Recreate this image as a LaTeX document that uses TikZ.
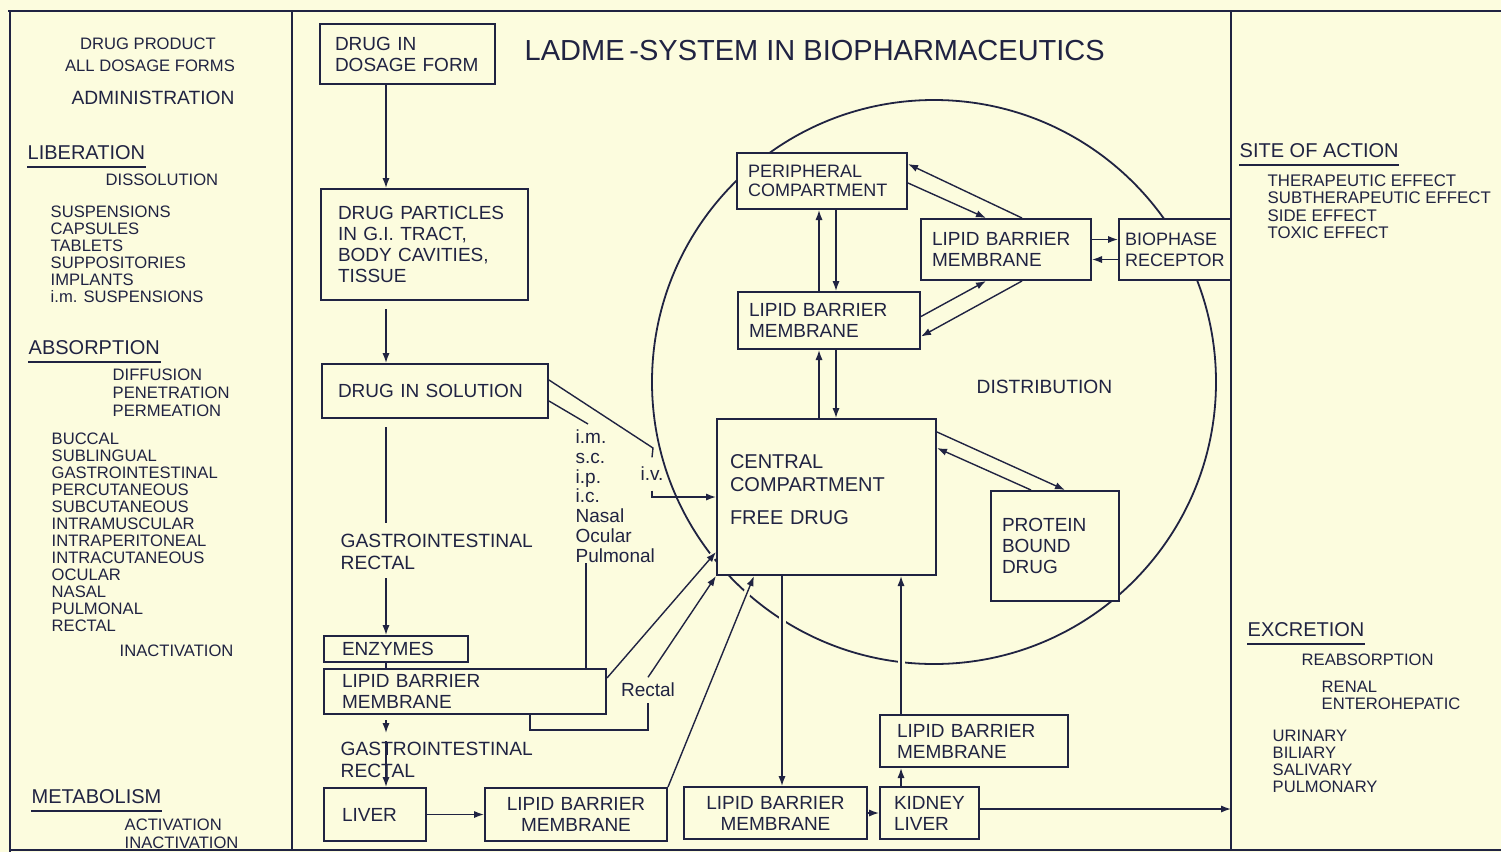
\documentclass[tikz,border=0pt]{standalone}
\usepackage{fontspec}
\setmainfont{Liberation Sans}
\usetikzlibrary{arrows.meta}
\definecolor{paper}{RGB}{252,252,222}
\definecolor{ink}{RGB}{32,35,66}
\newcommand{\bxfont}{\fontsize{9.5}{10.5}\selectfont}
\newcommand{\lsfont}{\fontsize{8.3}{8.5}\selectfont}
\newcommand{\hdfont}{\fontsize{10}{12}\selectfont}
\newcommand{\ttlfont}{\fontsize{14.5}{16}\selectfont}
\newcommand{\lbfont}{\fontsize{9.6}{11}\selectfont}

\begin{document}
\begin{tikzpicture}[
      x = .5pt, y = -.5pt,
      every node/.style = {inner sep = 0pt, text = ink},
      every path/.style = {ink, line width = .7pt},
      box/.style = {draw, line width = 1pt, fill = paper, anchor = north west,
        align = left, font = \bxfont, inner ysep = 0pt},
      lst/.style = {anchor = north west, align = left, font = \lsfont},
      head/.style = {anchor = west, font = \hdfont},
      uline/.style = {line width = 1.2pt},
      arr/.style = {-{Latex[length = 5pt, width = 3.6pt]}},
      gap/.style = {preaction = {draw = paper, line width = 3.5pt, -,
          shorten <=2pt, shorten >=2pt}}
      ]
    \useasboundingbox (0,0) rectangle (1501,852);
    \fill[paper] (0,0) rectangle (1501,852);
    % frame
    \draw[line width = 1pt] (8,11) -- (1501,11);
    \draw[line width = 1pt] (10,11) -- (10,852);
    \draw (10,850) -- (1501,850);
    \draw (292,11) -- (292,850);
    \draw (1231,11) -- (1231,850);
    % distribution circle
    \draw[line width = .9pt] (934,382) circle [radius = 282];

    % left column
    \node[font = \lsfont] (product) at (148,44) {DRUG PRODUCT};
    \node[font = \lsfont] (forms) at (150,66) {ALL DOSAGE FORMS};
    \node[font = \lbfont] (admin) at (153,98) {ADMINISTRATION};
    \node[head] (liberation) at (27,153) {LIBERATION};
    \node[lst, anchor = west] (dissolution) at (105,180) {DISSOLUTION};
    \node[lst] (dosageforms) at (50,205) {SUSPENSIONS\\CAPSULES\\TABLETS\\SUPPOSITORIES\\IMPLANTS\\i.m. SUSPENSIONS};
    \node[head] (absorption) at (28,348) {ABSORPTION};
    \node[lst, font = \fontsize{8.3}{9}\selectfont] (transport) at (112,368) {DIFFUSION\\PENETRATION\\PERMEATION};
    \node[lst] (routes) at (51,432) {BUCCAL\\SUBLINGUAL\\GASTROINTESTINAL\\PERCUTANEOUS\\SUBCUTANEOUS\\INTRAMUSCULAR\\INTRAPERITONEAL\\INTRACUTANEOUS\\OCULAR\\NASAL\\PULMONAL\\RECTAL};
    \node[lst, anchor = west] (inact) at (119,651) {INACTIVATION};
    \node[head] (metabolism) at (31,797) {METABOLISM};
    \node[lst, font = \fontsize{8.3}{9}\selectfont] (metab) at (124,818) {ACTIVATION\\INACTIVATION};

    % right column
    \node[head] (site) at (1239,151) {SITE OF ACTION};
    \node[lst, font = \fontsize{8.4}{8.7}\selectfont] (effects) at (1267,174) {THERAPEUTIC EFFECT\\SUBTHERAPEUTIC EFFECT\\SIDE EFFECT\\TOXIC EFFECT};
    \node[head] (excretion) at (1247,630) {EXCRETION};
    \node[lst, anchor = west] (reabs) at (1301,660) {REABSORPTION};
    \node[lst] (cycle) at (1321,680) {RENAL\\ENTEROHEPATIC};
    \node[lst] (routesout) at (1272,729) {URINARY\\BILIARY\\SALIVARY\\PULMONARY};
    \foreach \h in {liberation, absorption, metabolism, site, excretion}
      \draw[uline] ([yshift = -3pt]\h.south west) -- ([yshift = -3pt]\h.south east);

    % middle
    \node[font = \ttlfont, anchor = west] (title) at (524,51) {LADME\,-SYSTEM IN BIOPHARMACEUTICS};
    \node[box, text width = 72.5pt, inner xsep = 7.5pt, minimum height = 30pt] (dosage) at (319,23) {DRUG IN\\DOSAGE FORM};
    \node[box, text width = 86.5pt, inner xsep = 8.5pt, minimum height = 55.5pt] (particles) at (320,188) {DRUG PARTICLES\\IN G.I. TRACT,\\BODY CAVITIES,\\TISSUE};
    \node[box, text width = 97pt, inner xsep = 8pt, minimum height = 27pt] (solution) at (321,363) {DRUG IN SOLUTION};
    \node[box, text width = 54pt, inner xsep = 9pt, minimum height = 13pt] (enzymes) at (323,635) {ENZYMES};
    \node[box, text width = 123pt, inner xsep = 9pt, minimum height = 22.5pt] (lipidgut) at (323,668) {LIPID BARRIER\\MEMBRANE};
    \node[box, text width = 33pt, inner xsep = 9pt, minimum height = 26.5pt] (liver) at (323,787) {LIVER};
    \node[box, text width = 81pt, inner xsep = 5pt, minimum height = 26.5pt, align = center] (lipidb1) at (484,787) {LIPID BARRIER\\MEMBRANE};
    \node[box, text width = 81.5pt, inner xsep = 5pt, minimum height = 26pt, align = center] (lipidb2) at (683,786) {LIPID BARRIER\\MEMBRANE};
    \node[box, text width = 35.5pt, inner xsep = 7pt, minimum height = 26pt] (kidney) at (879,786) {KIDNEY\\LIVER};
    \node[box, text width = 77pt, inner xsep = 8.5pt, minimum height = 26pt] (lipid3) at (879,714) {LIPID BARRIER\\MEMBRANE};
    \node[box, text width = 96.5pt, inner xsep = 6.5pt, minimum height = 78pt, font = \fontsize{10}{11.5}\selectfont] (central) at (716,418) {CENTRAL\\COMPARTMENT\\[5pt]FREE DRUG\\[-4.5pt]\mbox{}};
    \node[box, text width = 53pt, inner xsep = 5.5pt, minimum height = 55pt] (protein) at (990,490) {PROTEIN\\BOUND\\DRUG};
    \node[box, text width = 74pt, inner xsep = 5.5pt, minimum height = 28pt, font = \fontsize{9}{9.5}\selectfont] (periph) at (736,152) {PERIPHERAL\\COMPARTMENT};
    \node[box, text width = 80pt, inner xsep = 5.5pt, minimum height = 28.5pt] (lbm) at (737,291) {LIPID BARRIER\\MEMBRANE};
    \node[box, text width = 74pt, inner xsep = 5.5pt, minimum height = 30.5pt] (lbr) at (920,218) {LIPID BARRIER\\MEMBRANE};
    \node[box, text width = 50pt, inner xsep = 3pt, minimum height = 30.5pt, font = \fontsize{9}{10.5}\selectfont] (bio) at (1118,218) {BIOPHASE\\RECEPTOR};

    \node[anchor = north west, align = left, font = \lbfont] (gitop) at (340,533) {GASTROINTESTINAL\\RECTAL};
    \node[anchor = north west, align = left, font = \lbfont] (gibottom) at (340,741) {GASTROINTESTINAL\\RECTAL};
    \node[anchor = north west, align = left, font = \fontsize{9.5}{9.9}\selectfont] (routesin) at (575,429) {i.m.\\s.c.\\i.p.\\i.c.\\Nasal\\Ocular\\Pulmonal};
    \node[font = \fontsize{9.5}{11}\selectfont, inner ysep = 4.5pt] (iv) at (652,474) {i.v.};
    \node[font = \fontsize{9.5}{11}\selectfont, inner ysep = 2.5pt] (rectal) at (648,690) {Rectal};
    \node[font = \lbfont, anchor = west] (distribution) at (976,387) {DISTRIBUTION};

    \coordinate (colA) at (386,0);
    \coordinate (colC) at (586,0);
    \coordinate (rcol) at (530,0);
    \coordinate (colD) at (819,0);
    \coordinate (colE) at (836,0);
    \coordinate (colF) at (782,0);
    \coordinate (colG) at (901,0);
    \coordinate (divR) at (1231,0);
    \coordinate (imend) at (588,424);

    % liberation / absorption
    \draw[arr] (dosage.south -| colA) -- (particles.north -| colA);
    \draw[arr, shorten <=4pt] (particles.south -| colA) -- (solution.north -| colA);
    \draw[shorten <=4pt, shorten >=5pt] (solution.south -| colA) -- (gitop.north -| colA);
    \draw[arr, shorten <=4pt] (gitop.south -| colA) -- (enzymes.north -| colA);
    \draw (enzymes.south -| colA) -- (lipidgut.north -| colA);
    \draw[arr, shorten <=2.5pt, shorten >=4pt] (lipidgut.south -| colA) -- (gibottom.north -| colA);
    \draw[arr] (gibottom.north -| colA) -- (liver.north -| colA);
    \draw[arr] (liver.east) -- (lipidb1.west);
    % parenteral and other routes
    \draw ([yshift = -5pt]solution.east) -- (imend);
    \draw ([yshift = 5.5pt]solution.east) -- ++(104,68) -- (iv.north);
    \draw[arr] (iv.south) |- (central.west);
    \draw (routesin.south -| colC) -- (lipidgut.north -| colC);
    \draw[arr, gap] ([yshift = -5pt]lipidgut.north east) -- ([yshift = 12pt]central.south west);
    \draw (lipidgut.south -| rcol) -- ++(0,15) -| (rectal.south);
    \draw[arr, gap] (rectal.north) -- (central.south west);
    \draw[arr, gap] (lipidb1.north east) -- ([xshift = 19pt]central.south west);
    % elimination
    \draw[arr, gap] (central.south -| colF) -- (lipidb2.north -| colF);
    \draw[arr] (lipidb2.east) -- (kidney.west);
    \draw[arr] (kidney.north -| colG) -- (lipid3.south -| colG);
    \draw[arr, gap] (lipid3.north -| colG) -- (central.south -| colG);
    \coordinate (kout) at ([yshift = 2pt]kidney.east);
    \draw[arr] (kout) -- (kout -| divR);
    % distribution
    \draw[arr] (lbm.north -| colD) -- (periph.south -| colD);
    \draw[arr] (periph.south -| colE) -- (lbm.north -| colE);
    \draw[arr] (central.north -| colD) -- (lbm.south -| colD);
    \draw[arr] (lbm.south -| colE) -- (central.north -| colE);
    \draw[arr] ([xshift = 8pt]lbr.north) -- ([yshift = 8.5pt]periph.east);
    \draw[arr] ([yshift = -1pt]periph.east) -- ([xshift = -10pt]lbr.north);
    \draw[arr] ([yshift = 2pt]lbm.east) -- ([xshift = -10pt]lbr.south);
    \draw[arr] ([xshift = 8pt]lbr.south) -- ([yshift = -8pt]lbm.east);
    \draw[arr] ([yshift = 5pt]lbr.east) -- ([yshift = 5pt]bio.west);
    \draw[arr] ([yshift = -5pt]bio.west) -- ([yshift = -5pt]lbr.east);
    \draw[arr] ([yshift = -7pt]central.north east) -- ([xshift = 5pt]protein.north);
    \draw[arr] ([xshift = -12pt]protein.north) -- ([yshift = -15pt]central.north east);
  \end{tikzpicture}
\end{document}
